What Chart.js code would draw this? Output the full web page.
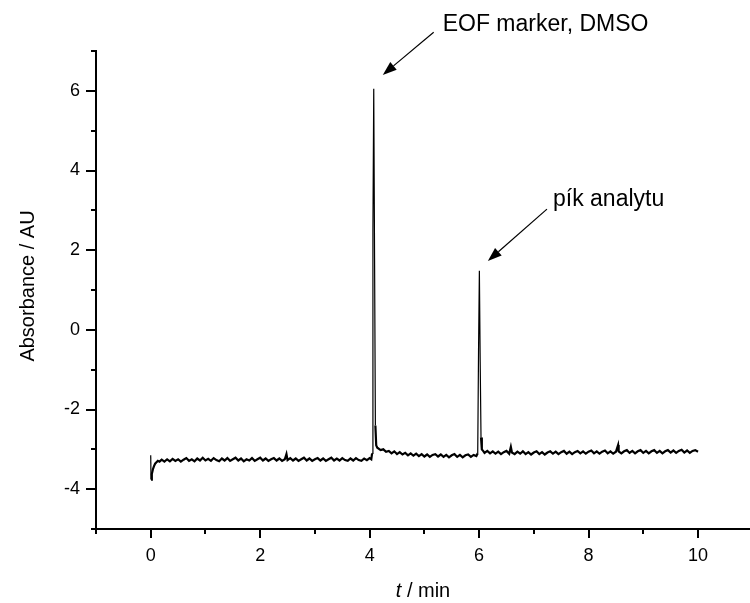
<!DOCTYPE html>
<html><head><meta charset="utf-8">
<script src="https://cdn.jsdelivr.net/npm/chart.js@4"></script>
<style>html,body{margin:0;padding:0;background:#fff}#wrap{width:750px;height:603px}</style>
</head><body><div id="wrap"><canvas id="c" width="750" height="603"></canvas></div>
<script>
// Electropherogram: time (min) and absorbance (AU)
const timeMin = [
  0, 0.005, 0.02, 0.04, 0.06, 0.08, 0.10, 0.13, 0.16, 0.20,
  0.25, 0.30, 0.35, 0.40, 0.45, 0.50, 0.55, 0.60, 0.65, 0.70,
  0.75, 0.80, 0.85, 0.90, 0.95, 1.00, 1.05, 1.10, 1.15, 1.20,
  1.25, 1.30, 1.35, 1.40, 1.45, 1.50, 1.55, 1.60, 1.65, 1.70,
  1.75, 1.80, 1.85, 1.90, 1.95, 2.00, 2.05, 2.10, 2.15, 2.20,
  2.25, 2.30, 2.35, 2.40, 2.45, 2.48, 2.50, 2.55, 2.60, 2.65,
  2.70, 2.75, 2.80, 2.85, 2.90, 2.95, 3.00, 3.05, 3.10, 3.15,
  3.20, 3.25, 3.30, 3.35, 3.40, 3.45, 3.50, 3.55, 3.60, 3.65,
  3.70, 3.75, 3.80, 3.85, 3.90, 3.95, 4.00, 4.03, 4.045, 4.06,
  4.075, 4.09, 4.105, 4.12, 4.14, 4.17, 4.20, 4.25, 4.30, 4.35,
  4.40, 4.45, 4.50, 4.55, 4.60, 4.65, 4.70, 4.75, 4.80, 4.85,
  4.90, 4.95, 5.00, 5.05, 5.10, 5.15, 5.20, 5.25, 5.30, 5.35,
  5.40, 5.45, 5.50, 5.55, 5.60, 5.65, 5.70, 5.75, 5.80, 5.85,
  5.90, 5.95, 5.975, 5.99, 6.005, 6.02, 6.035, 6.05, 6.08, 6.10,
  6.15, 6.20, 6.25, 6.30, 6.35, 6.40, 6.45, 6.50, 6.55, 6.58,
  6.60, 6.65, 6.70, 6.75, 6.80, 6.85, 6.90, 6.95, 7.00, 7.05,
  7.10, 7.15, 7.20, 7.25, 7.30, 7.35, 7.40, 7.45, 7.50, 7.55,
  7.60, 7.65, 7.70, 7.75, 7.80, 7.85, 7.90, 7.95, 8.00, 8.05,
  8.10, 8.15, 8.20, 8.25, 8.30, 8.35, 8.40, 8.45, 8.50, 8.54,
  8.55, 8.60, 8.65, 8.70, 8.75, 8.80, 8.85, 8.90, 8.95, 9.00,
  9.05, 9.10, 9.15, 9.20, 9.25, 9.30, 9.35, 9.40, 9.45, 9.50,
  9.55, 9.60, 9.65, 9.70, 9.75, 9.80, 9.85, 9.90, 9.95, 10.00
];
const absorbance = [
  -3.15, -3.76, -3.62, -3.50, -3.42, -3.36, -3.33, -3.29, -3.31, -3.26,
  -3.31, -3.25, -3.30, -3.24, -3.29, -3.25, -3.31, -3.26, -3.22, -3.29,
  -3.25, -3.30, -3.23, -3.28, -3.21, -3.28, -3.24, -3.29, -3.22, -3.27,
  -3.30, -3.23, -3.28, -3.22, -3.29, -3.25, -3.21, -3.28, -3.23, -3.30,
  -3.25, -3.28, -3.22, -3.29, -3.25, -3.21, -3.28, -3.23, -3.29, -3.25,
  -3.22, -3.28, -3.23, -3.29, -3.25, -3.12, -3.27, -3.22, -3.28, -3.23,
  -3.29, -3.25, -3.21, -3.28, -3.23, -3.29, -3.25, -3.22, -3.28, -3.23,
  -3.29, -3.25, -3.21, -3.28, -3.23, -3.28, -3.22, -3.27, -3.29, -3.23,
  -3.28, -3.22, -3.27, -3.29, -3.23, -3.27, -3.22, -3.25, -3.10, 2.50,
  6.05, 1.80, -2.40, -2.90, -2.96, -2.99, -3.02, -3.00, -3.06, -3.04,
  -3.10, -3.05, -3.12, -3.07, -3.13, -3.09, -3.15, -3.10, -3.16, -3.11,
  -3.17, -3.12, -3.18, -3.13, -3.19, -3.14, -3.12, -3.18, -3.13, -3.19,
  -3.14, -3.20, -3.15, -3.12, -3.19, -3.14, -3.20, -3.15, -3.13, -3.19,
  -3.14, -3.17, -3.10, -0.50, 1.48, -0.80, -2.70, -3.00, -3.05, -3.09,
  -3.04, -3.10, -3.05, -3.11, -3.06, -3.12, -3.07, -3.04, -3.11, -2.94,
  -3.08, -3.12, -3.06, -3.11, -3.05, -3.12, -3.07, -3.13, -3.08, -3.05,
  -3.12, -3.07, -3.13, -3.08, -3.05, -3.11, -3.06, -3.12, -3.07, -3.04,
  -3.11, -3.06, -3.12, -3.07, -3.04, -3.10, -3.05, -3.11, -3.06, -3.03,
  -3.10, -3.05, -3.11, -3.06, -3.03, -3.10, -3.05, -3.11, -3.06, -2.89,
  -3.05, -3.10, -3.05, -3.02, -3.09, -3.04, -3.10, -3.05, -3.02, -3.09,
  -3.04, -3.10, -3.05, -3.02, -3.09, -3.04, -3.10, -3.05, -3.02, -3.08,
  -3.03, -3.09, -3.04, -3.01, -3.08, -3.03, -3.09, -3.04, -3.02, -3.06
];
const xTickValues = [0, 2, 4, 6, 8, 10];
const xMinorValues = [-1, 1, 3, 5, 7, 9];
const yTickValues = [-4, -2, 0, 2, 4, 6];
const yMinorValues = [-5, -3, -1, 1, 3, 5, 7];
const annotationTexts = ["EOF marker, DMSO", "pík analytu"];
const xTitleItalic = "t";
const xTitleRest = " / min";
const yTitle = "Absorbance / AU";

const FONT = 'Arial, "Liberation Sans", sans-serif';

const points = timeMin.map((t, i) => ({x: t, y: absorbance[i]}));

const annotations = [
  {text: annotationTexts[0], tx: 5.335, ty: 7.50, tail: [5.17, 7.47], head: [4.24, 6.40]},
  {text: annotationTexts[1], tx: 7.35, ty: 3.11, tail: [7.24, 3.03], head: [6.16, 1.73]}
];

const decorPlugin = {
  id: 'decor',
  afterDraw(chart) {
    const ctx = chart.ctx;
    const xs = chart.scales.x, ys = chart.scales.y;
    const area = chart.chartArea;
    ctx.save();
    ctx.strokeStyle = '#000';
    ctx.lineWidth = 2;
    ctx.lineCap = 'butt';
    const drawX = (vals, len) => vals.forEach(v => {
      const px = Math.round(xs.getPixelForValue(v));
      ctx.beginPath(); ctx.moveTo(px, area.bottom); ctx.lineTo(px, area.bottom + len); ctx.stroke();
    });
    const drawY = (vals, len) => vals.forEach(v => {
      const py = Math.round(ys.getPixelForValue(v));
      ctx.beginPath(); ctx.moveTo(area.left, py); ctx.lineTo(area.left - len, py); ctx.stroke();
    });
    drawX(xTickValues, 9); drawX(xMinorValues, 5);
    drawY(yTickValues, 10); drawY(yMinorValues, 5);

    // annotations
    ctx.fillStyle = '#000';
    ctx.font = '23px ' + FONT;
    ctx.textAlign = 'left';
    ctx.textBaseline = 'alphabetic';
    annotations.forEach(a => {
      ctx.fillText(a.text, xs.getPixelForValue(a.tx), ys.getPixelForValue(a.ty));
      const x1 = xs.getPixelForValue(a.tail[0]), y1 = ys.getPixelForValue(a.tail[1]);
      const x2 = xs.getPixelForValue(a.head[0]), y2 = ys.getPixelForValue(a.head[1]);
      const ang = Math.atan2(y2 - y1, x2 - x1);
      const L = 14, W = 5;
      const bx = x2 - L * Math.cos(ang), by = y2 - L * Math.sin(ang);
      ctx.lineWidth = 1.2;
      ctx.beginPath(); ctx.moveTo(x1, y1); ctx.lineTo(bx, by); ctx.stroke();
      ctx.beginPath();
      ctx.moveTo(x2, y2);
      ctx.lineTo(bx + W * Math.sin(ang), by - W * Math.cos(ang));
      ctx.lineTo(bx - W * Math.sin(ang), by + W * Math.cos(ang));
      ctx.closePath(); ctx.fill();
    });

    // x title with italic t
    ctx.textBaseline = 'alphabetic';
    ctx.font = 'italic 20px ' + FONT;
    const w1 = ctx.measureText(xTitleItalic).width;
    ctx.font = '20px ' + FONT;
    const w2 = ctx.measureText(xTitleRest).width;
    const cx = (area.left + area.right) / 2;
    const start = cx - (w1 + w2) / 2;
    ctx.font = 'italic 20px ' + FONT;
    ctx.fillText(xTitleItalic, start, 597);
    ctx.font = '20px ' + FONT;
    ctx.fillText(xTitleRest, start + w1, 597);

    // y title
    ctx.save();
    ctx.translate(28, (area.top + area.bottom) / 2 - 4);
    ctx.rotate(-Math.PI / 2);
    ctx.textAlign = 'center';
    ctx.textBaseline = 'middle';
    ctx.font = '20px ' + FONT;
    ctx.fillText(yTitle, 0, 0);
    ctx.restore();
    ctx.restore();
  }
};

new Chart(document.getElementById('c'), {
  type: 'line',
  data: {datasets: [{
    data: points,
    borderColor: '#000',
    borderWidth: 2,
    pointRadius: 0,
    tension: 0,
    fill: false,
    segment: {
      borderWidth: c => Math.abs(c.p1.parsed.y - c.p0.parsed.y) > 0.5 ? 1.2 : 2.2
    }
  }]},
  options: {
    responsive: false,
    animation: false,
    parsing: false,
    layout: {padding: {top: 51, right: 0, left: 0, bottom: 0}},
    plugins: {legend: {display: false}, tooltip: {enabled: false}},
    scales: {
      x: {
        type: 'linear', min: -1, max: 10.95,
        afterBuildTicks: s => { s.ticks = xTickValues.map(v => ({value: v})); },
        afterFit: s => { s.height = 74; },
        grid: {display: true, drawOnChartArea: false, drawTicks: false},
        border: {display: true, color: '#000', width: 2},
        ticks: {color: '#000', font: {size: 18, family: FONT}, padding: 16, maxRotation: 0, autoSkip: false}
      },
      y: {
        type: 'linear', min: -5, max: 7,
        afterBuildTicks: s => { s.ticks = yTickValues.map(v => ({value: v})); },
        afterFit: s => { s.width = 96; },
        grid: {display: true, drawOnChartArea: false, drawTicks: false},
        border: {display: true, color: '#000', width: 2},
        ticks: {color: '#000', font: {size: 18, family: FONT}, padding: 16, autoSkip: false}
      }
    }
  },
  plugins: [decorPlugin]
});
</script>
</body></html>
